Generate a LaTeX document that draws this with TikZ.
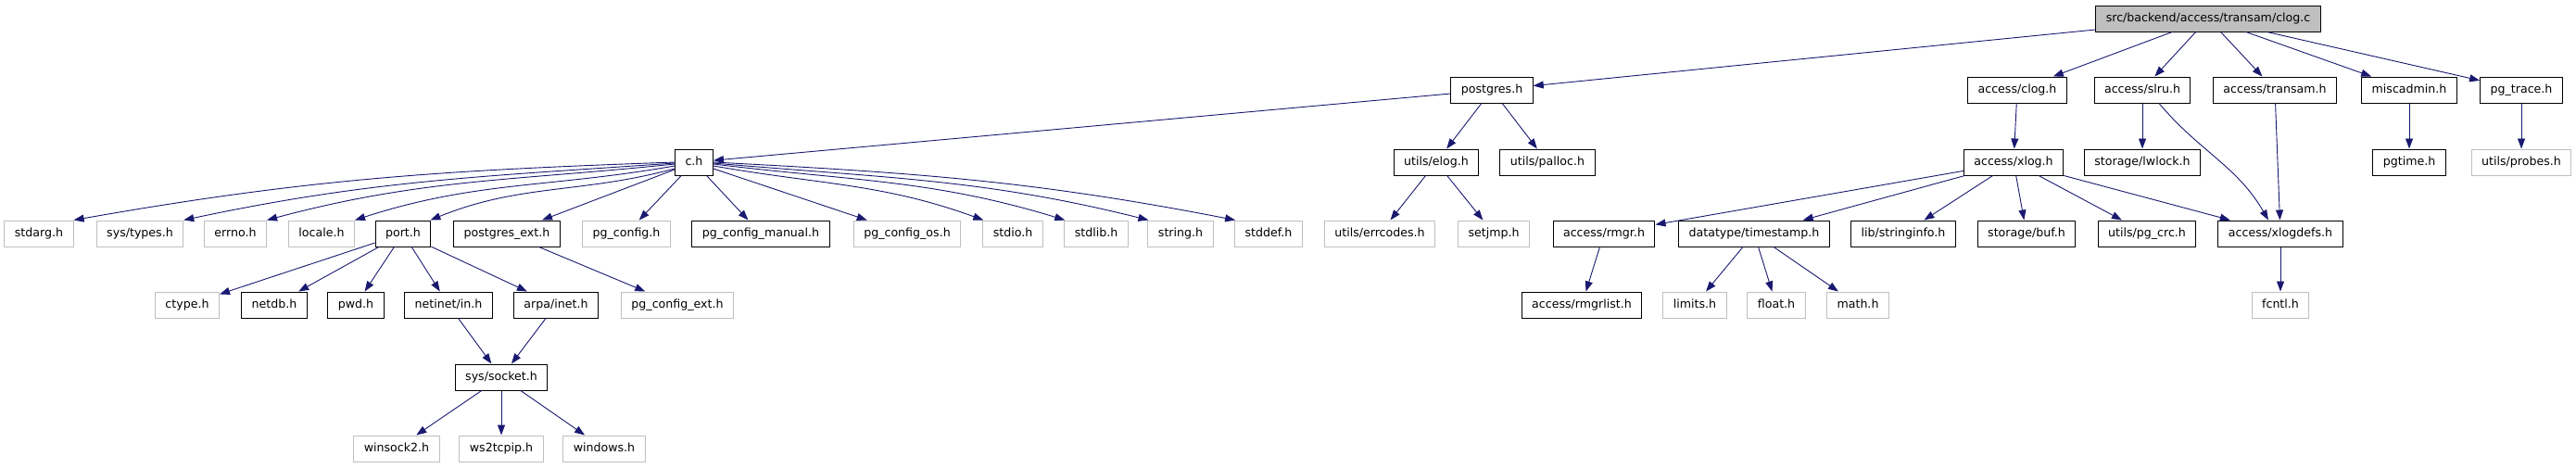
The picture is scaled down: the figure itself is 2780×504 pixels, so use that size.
\documentclass[tikz,border=0pt]{standalone}
\usepackage{fontspec}
\setmainfont{DejaVu Sans}
\usetikzlibrary{arrows.meta}
\definecolor{edgec}{HTML}{191970}
\definecolor{lgray}{HTML}{BFBFBF}
\tikzset{
  hdr/.style={draw=black, line width=1pt, fill=white, inner xsep=11pt, inner ysep=0pt,
    minimum height=28pt, text height=9.5pt, text depth=2.8pt,
    font=\fontsize{12.6}{15}\selectfont},
  ext/.style={hdr, draw=lgray},
  edge/.style={draw=edgec, line width=0.9pt, -{Triangle[length=11pt,width=8pt]}},
}
\begin{document}
\begin{tikzpicture}[x=1pt,y=1pt]
\useasboundingbox (0,0) rectangle (2780,-504);
% row 0
\node[hdr, fill=lgray] (clogc) at (2383,-20) {src/backend/access/transam/clog.c};
% row 1
\node[hdr] (postgres) at (1610,-97) {postgres.h};
\node[hdr] (aclog) at (2177,-97) {access/clog.h};
\node[hdr] (slru) at (2312,-97) {access/slru.h};
\node[hdr] (transam) at (2455,-97) {access/transam.h};
\node[hdr] (misc) at (2600,-97) {miscadmin.h};
\node[hdr] (pgtrace) at (2721,-97) {pg\_trace.h};
% row 2
\node[hdr] (ch) at (749,-175) {c.h};
\node[hdr] (elog) at (1550,-175) {utils/elog.h};
\node[hdr] (palloc) at (1670,-175) {utils/palloc.h};
\node[hdr] (xlog) at (2173,-175) {access/xlog.h};
\node[hdr] (lwlock) at (2312,-175) {storage/lwlock.h};
\node[hdr] (pgtime) at (2600,-175) {pgtime.h};
\node[ext] (probes) at (2721,-175) {utils/probes.h};
% row 3
\node[ext] (stdarg) at (42,-252) {stdarg.h};
\node[ext] (systypes) at (151,-252) {sys/types.h};
\node[ext] (errno) at (254,-252) {errno.h};
\node[ext] (locale) at (347,-252) {locale.h};
\node[hdr] (port) at (435,-252) {port.h};
\node[hdr] (pgext) at (547,-252) {postgres\_ext.h};
\node[ext] (pgconfig) at (676,-252) {pg\_config.h};
\node[hdr] (pgman) at (821,-252) {pg\_config\_manual.h};
\node[ext] (pgos) at (979,-252) {pg\_config\_os.h};
\node[ext] (stdio) at (1093,-252) {stdio.h};
\node[ext] (stdlib) at (1183,-252) {stdlib.h};
\node[ext] (string) at (1274,-252) {string.h};
\node[ext] (stddef) at (1369,-252) {stddef.h};
\node[ext] (errcodes) at (1489,-252) {utils/errcodes.h};
\node[ext] (setjmp) at (1612,-252) {setjmp.h};
\node[hdr] (rmgr) at (1731,-252) {access/rmgr.h};
\node[hdr] (timestamp) at (1893,-252) {datatype/timestamp.h};
\node[hdr] (stringinfo) at (2054,-252) {lib/stringinfo.h};
\node[hdr] (buf) at (2187,-252) {storage/buf.h};
\node[hdr] (pgcrc) at (2317,-252) {utils/pg\_crc.h};
\node[hdr] (xlogdefs) at (2461,-252) {access/xlogdefs.h};
% row 4
\node[ext] (ctype) at (202,-329) {ctype.h};
\node[hdr] (netdb) at (296,-329) {netdb.h};
\node[hdr] (pwd) at (384,-329) {pwd.h};
\node[hdr] (netin) at (484,-329) {netinet/in.h};
\node[hdr] (arpa) at (600,-329) {arpa/inet.h};
\node[ext] (pgcext) at (731,-329) {pg\_config\_ext.h};
\node[hdr] (rmgrlist) at (1707,-329) {access/rmgrlist.h};
\node[ext] (limits) at (1829,-329) {limits.h};
\node[ext] (float) at (1917,-329) {float.h};
\node[ext] (math) at (2005,-329) {math.h};
\node[ext] (fcntl) at (2461,-329) {fcntl.h};
% row 5,6
\node[hdr] (socket) at (541,-407) {sys/socket.h};
\node[ext] (winsock) at (428,-484) {winsock2.h};
\node[ext] (ws2) at (541,-484) {ws2tcpip.h};
\node[ext] (windows) at (652,-484) {windows.h};

% edges from clog.c
\draw[edge] (clogc) -- (postgres);
\draw[edge] (clogc) -- (aclog);
\draw[edge] (clogc) -- (slru);
\draw[edge] (clogc) -- (transam);
\draw[edge] (clogc) -- (misc);
\draw[edge] (clogc) -- (pgtrace);
% postgres.h
\draw[edge] (postgres) -- (ch);
\draw[edge] (postgres) -- (elog);
\draw[edge] (postgres) -- (palloc);
% c.h fan
\draw[edge] (ch.west) to[out=182,in=10] (stdarg.north east);
\draw[edge] ([yshift=-1pt]ch.west) to[out=184,in=12] (systypes.north east);
\draw[edge] ([yshift=-2pt]ch.west) to[out=186,in=15] (errno.north east);
\draw[edge] ([yshift=-4pt]ch.west) to[out=190,in=18] (locale.north east);
\draw[edge] ([yshift=-7pt]ch.west) to[out=195,in=22] ([xshift=-1pt]port.north east);
\draw[edge] (ch) -- (pgext);
\draw[edge] (ch) -- (pgconfig);
\draw[edge] (ch) -- (pgman);
\draw[edge] (ch) -- (pgos);
\draw[edge] ([yshift=-4pt]ch.east) to[out=-10,in=160] ([xshift=1pt]stdio.north west);
\draw[edge] ([yshift=-2pt]ch.east) to[out=-7,in=163] ([xshift=1pt]stdlib.north west);
\draw[edge] ([yshift=-1pt]ch.east) to[out=-5,in=166] ([xshift=1pt]string.north west);
\draw[edge] (ch.east) to[out=-3,in=169] ([xshift=1pt]stddef.north west);
% port.h
\draw[edge] (port) -- (ctype);
\draw[edge] (port) -- (netdb);
\draw[edge] (port) -- (pwd);
\draw[edge] (port) -- (netin);
\draw[edge] (port) -- (arpa);
\draw[edge] (pgext) -- (pgcext);
\draw[edge] (netin) -- (socket);
\draw[edge] (arpa) -- (socket);
\draw[edge] (socket) -- (winsock);
\draw[edge] (socket) -- (ws2);
\draw[edge] (socket) -- (windows);
% elog
\draw[edge] (elog) -- (errcodes);
\draw[edge] (elog) -- (setjmp);
% clog.h / xlog
\draw[edge] (aclog) -- (xlog);
\draw[edge] (xlog) -- (rmgr);
\draw[edge] (xlog) -- (timestamp);
\draw[edge] (xlog) -- (stringinfo);
\draw[edge] (xlog) -- (buf);
\draw[edge] (xlog) -- (pgcrc);
\draw[edge] (xlog) -- (xlogdefs);
\draw[edge] (rmgr) -- (rmgrlist);
\draw[edge] (timestamp) -- (limits);
\draw[edge] (timestamp) -- (float);
\draw[edge] (timestamp) -- (math);
% slru, transam, misc, trace
\draw[edge] (slru) -- (lwlock);
\draw[edge] ([xshift=18pt]slru.south) to[out=-50,in=120] ([xshift=-13pt]xlogdefs.north);
\draw[edge] (transam) -- (xlogdefs);
\draw[edge] (xlogdefs) -- (fcntl);
\draw[edge] (misc) -- (pgtime);
\draw[edge] (pgtrace) -- (probes);
\end{tikzpicture}
\end{document}
